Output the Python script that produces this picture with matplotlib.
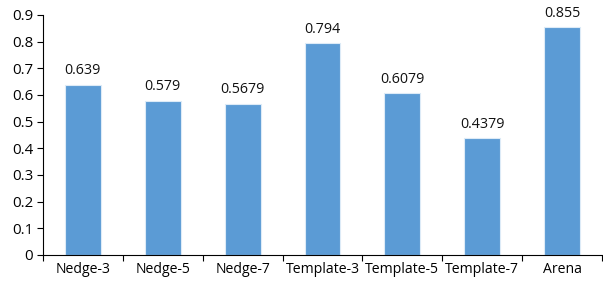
import matplotlib
matplotlib.use("Agg")
import matplotlib.pyplot as plt

categories = ["Nedge-3", "Nedge-5", "Nedge-7", "Template-3", "Template-5", "Template-7", "Arena"]
values = [0.639, 0.579, 0.5679, 0.794, 0.6079, 0.4379, 0.855]
labels = ["0.639", "0.579", "0.5679", "0.794", "0.6079", "0.4379", "0.855"]
yticks = [0, 0.1, 0.2, 0.3, 0.4, 0.5, 0.6, 0.7, 0.8, 0.9]

plt.rcParams['font.family'] = ['Open Sans', 'DejaVu Sans']

fig = plt.figure(figsize=(6.03, 2.87), dpi=100)
ax = fig.add_axes([43/603, 32/287, 559/603, 240/287])

x = list(range(len(categories)))
ax.bar(x, values, width=0.45, color="#5B9BD5", edgecolor="#DDEBF7", linewidth=0.8, zorder=2)
for xi, v, lab in zip(x, values, labels):
    ax.annotate(lab, (xi, v), xytext=(0, 4.5), textcoords="offset points",
                ha="center", va="bottom", fontsize=10.3, color="#111111")

ax.set_xlim(-0.5, len(categories) - 0.5)
ax.set_ylim(0, 0.9)
ax.set_yticks(yticks)
ax.set_yticklabels(["0"] + [f"{t:.1f}" for t in yticks[1:]], fontsize=10.8, color="#000000")
ax.set_xticks(x)
ax.set_xticklabels(categories, fontsize=10.1, color="#000000")
ax.tick_params(axis="x", length=0, pad=5)
ax.set_xticks([i - 0.5 for i in range(len(categories) + 1)], minor=True)
ax.tick_params(axis="x", which="minor", length=4, width=0.8, direction="out")
ax.tick_params(axis="y", length=4, width=0.8, direction="out", pad=3)

for s in ["top", "right"]:
    ax.spines[s].set_visible(False)
for s in ["left", "bottom"]:
    ax.spines[s].set_linewidth(0.8)
    ax.spines[s].set_color("#000000")

fig.savefig("out.png", dpi=100)
